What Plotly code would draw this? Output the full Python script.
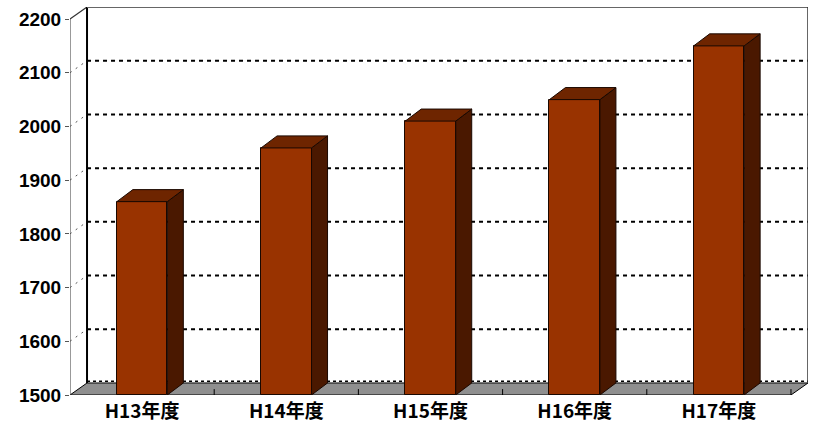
import plotly.graph_objects as go

# ---- data ----
categories = ["H13年度", "H14年度", "H15年度", "H16年度", "H17年度"]
values = [1860, 1960, 2010, 2050, 2150]
y_ticks = [1500, 1600, 1700, 1800, 1900, 2000, 2100, 2200]

# ---- style / geometry constants ----
Y0, Y1 = y_ticks[0], y_ticks[-1]
X0, X1 = -0.5, len(categories) - 0.5
DX, DY = 0.118, 22.4          # depth offset of back wall (axis units)
BDX, BDY = 0.111, 22.4        # depth offset of bars
BW = 0.35                     # bar width
FRONT = "#993300"
TOP = "#6e2500"
SIDE = "#4a1800"
EDGE = "#1a0800"

xs = list(range(len(categories)))

fig = go.Figure()

# front faces of bars
fig.add_trace(go.Bar(
    x=xs, y=[v - Y0 for v in values], base=Y0, width=BW,
    marker=dict(color=FRONT, line=dict(color=EDGE, width=1)),
    hoverinfo="skip", showlegend=False,
))

# side faces
sx, sy = [], []
for i, v in zip(xs, values):
    r = i + BW / 2
    sx += [r, r, r + BDX, r + BDX, r, None]
    sy += [Y0, v, v + BDY, Y0 + BDY, Y0, None]
fig.add_trace(go.Scatter(
    x=sx, y=sy, mode="lines", fill="toself", fillcolor=SIDE,
    line=dict(color=EDGE, width=1), hoverinfo="skip", showlegend=False,
))

# top faces
tx, ty = [], []
for i, v in zip(xs, values):
    l, r = i - BW / 2, i + BW / 2
    tx += [l, r, r + BDX, l + BDX, l, None]
    ty += [v, v, v + BDY, v + BDY, v, None]
fig.add_trace(go.Scatter(
    x=tx, y=ty, mode="lines", fill="toself", fillcolor=TOP,
    line=dict(color=EDGE, width=1), hoverinfo="skip", showlegend=False,
))

shapes = []
# floor
shapes.append(dict(
    type="path", xref="x", yref="y", layer="below",
    path=f"M {X0},{Y0} L {X1},{Y0} L {X1+DX},{Y0+DY} L {X0+DX},{Y0+DY} Z",
    fillcolor="#8f8f8f", line=dict(color="black", width=1),
))
# back wall gridlines (dotted)
for v in y_ticks[1:]:
    shapes.append(dict(
        type="line", xref="x", yref="y", layer="below",
        x0=X0 + DX, x1=X1 + DX, y0=v + DY, y1=v + DY,
        line=dict(color="black", width=2, dash="4px,4px"),
    ))
# floor back edge dotted
shapes.append(dict(
    type="line", xref="x", yref="y", layer="below",
    x0=X0 + DX, x1=X1 + DX, y0=Y0 + DY + 3, y1=Y0 + DY + 3,
    line=dict(color="black", width=1.5, dash="3px,3px"),
))
# left wall diagonals (dotted)
for v in y_ticks[1:-1]:
    shapes.append(dict(
        type="line", xref="x", yref="y", layer="below",
        x0=X0, x1=X0 + DX, y0=v, y1=v + DY,
        line=dict(color="#555555", width=1, dash="2px,5px"),
    ))
# top-left diagonal
shapes.append(dict(
    type="line", xref="x", yref="y", layer="below",
    x0=X0, x1=X0 + DX, y0=Y1, y1=Y1 + DY,
    line=dict(color="#333333", width=1.2),
))
# front value axis
shapes.append(dict(
    type="line", xref="x", yref="y", layer="below",
    x0=X0, x1=X0, y0=Y0, y1=Y1,
    line=dict(color="#555555", width=1.2),
))
# back wall left edge
shapes.append(dict(
    type="line", xref="x", yref="y", layer="below",
    x0=X0 + DX, x1=X0 + DX, y0=Y0 + DY, y1=Y1 + DY,
    line=dict(color="black", width=2),
))
# back wall top edge
shapes.append(dict(
    type="line", xref="x", yref="y", layer="below",
    x0=X0 + DX, x1=X1 + DX, y0=Y1 + DY, y1=Y1 + DY,
    line=dict(color="#666666", width=2),
))
# back wall right edge
shapes.append(dict(
    type="line", xref="x", yref="y", layer="below",
    x0=X1 + DX, x1=X1 + DX, y0=Y0 + DY, y1=Y1 + DY,
    line=dict(color="#333333", width=1.5),
))
# floor category ticks
for k in range(1, len(categories) + 1):
    b = X0 + k
    shapes.append(dict(
        type="line", xref="x", yref="y", layer="below",
        x0=b, x1=b, y0=Y0, y1=Y0 + 11,
        line=dict(color="black", width=1),
    ))

fig.update_layout(
    width=816, height=422,
    margin=dict(l=70, r=8, t=7, b=27, autoexpand=False),
    paper_bgcolor="white", plot_bgcolor="white",
    shapes=shapes,
    showlegend=False,
    bargap=0,
    xaxis=dict(
        range=[X0, X1 + DX], tickvals=xs, ticktext=categories,
        showgrid=False, zeroline=False, showline=False, ticks="",
        automargin=False, ticklabelstandoff=3,
        tickfont=dict(family="Noto Sans CJK JP", size=19, color="black", weight="bold"),
        fixedrange=True,
    ),
    yaxis=dict(
        range=[Y0, Y1 + DY], tickvals=y_ticks,
        ticktext=[str(t) for t in y_ticks],
        showgrid=False, zeroline=False, showline=False, automargin=False,
        ticks="outside", ticklen=4, tickcolor="#555555", tickwidth=1,
        tickfont=dict(family="Liberation Sans", size=19, color="black", weight="bold"),
        fixedrange=True,
    ),
)

fig.write_html("out.html")
